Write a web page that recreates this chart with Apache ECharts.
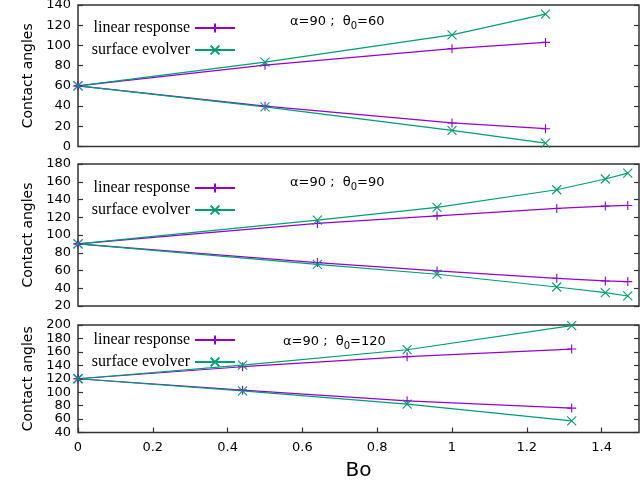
<!DOCTYPE html>
<html>
<head>
<meta charset="utf-8">
<script src="https://cdn.jsdelivr.net/npm/echarts@6/dist/echarts.min.js"></script>
<style>
  html, body { margin: 0; padding: 0; background: #fff; }
  #chart { width: 640px; height: 480px; }
</style>
</head>
<body>
<div id="chart"></div>
<script>
// panel 1: theta0 = 60
var bo1 = [0, 0.5, 1.0, 1.25];
var lrUp1 = [60, 80.5, 96.8, 103];
var lrDn1 = [60, 39.9, 23.3, 17.6];
var seUp1 = [60, 83.5, 110.4, 131];
var seDn1 = [60, 39.2, 16, 3.3];

// panel 2: theta0 = 90
var bo2 = [0, 0.64, 0.96, 1.28, 1.41, 1.47];
var lrUp2 = [90, 113, 121.6, 129.9, 132.6, 133.3];
var lrDn2 = [90, 68.9, 59.5, 51.2, 48.2, 47.5];
var seUp2 = [90, 116.7, 131.1, 151, 163.1, 169.8];
var seDn2 = [90, 67, 55.8, 41.4, 35, 31.3];

// panel 3: theta0 = 120
var bo3 = [0, 0.44, 0.88, 1.32];
var lrUp3 = [120, 137.9, 152.8, 164.2];
var lrDn3 = [120, 103, 87.2, 76.3];
var seUp3 = [120, 140.4, 163.2, 199];
var seDn3 = [120, 102, 82.2, 57.4];

var yRanges = [[0, 140], [20, 180], [40, 200]];
var theta0 = ['60', '90', '120'];

var purple = '#9400d3', green = '#009e73';
var plusSym = 'path://M5,0L5,10M0,5L10,5';
var crossSym = 'path://M0,0L10,10M10,0L0,10';
var sans = 'DejaVu Sans';

var panels = [
    {top: 5, height: 141.5, bo: bo1, lr: [lrUp1, lrDn1], se: [seUp1, seDn1], legTop: 19, noteX: 290, noteY: 22},
    {top: 164, height: 142, bo: bo2, lr: [lrUp2, lrDn2], se: [seUp2, seDn2], legTop: 179, noteX: 290, noteY: 183},
    {top: 325, height: 107.5, bo: bo3, lr: [lrUp3, lrDn3], se: [seUp3, seDn3], legTop: 331, noteX: 283, noteY: 342}
];

function pairs(xs, ys) {
    return xs.map(function (x, i) { return [x, ys[i]]; });
}

var tickStyle = {inside: true, length: 5, lineStyle: {color: '#333', width: 1.2}};
var labelBase = {margin: 7, color: '#000', fontFamily: sans, fontSize: 13};

var grid = [], xAxis = [], yAxis = [], series = [], legend = [], graphic = [];

panels.forEach(function (p, idx) {
    var last = idx === panels.length - 1;
    grid.push({
        left: 78, top: p.top, width: 561, height: p.height,
        outerBoundsMode: 'none',
        show: true, borderColor: '#333', borderWidth: 1.5, backgroundColor: 'transparent'
    });
    xAxis.push({
        type: 'value', gridIndex: idx, min: 0, max: 1.5, interval: 0.2,
        axisLine: {show: false},
        splitLine: {show: false},
        axisTick: Object.assign({show: last}, tickStyle),
        axisLabel: {show: last, showMaxLabel: false, margin: 9, color: '#000', fontFamily: sans, fontSize: 13},
        name: last ? 'Bo' : '', nameLocation: 'middle', nameGap: 28,
        nameTextStyle: {fontFamily: sans, fontSize: 20, color: '#000'}
    });

    var r = yRanges[idx];
    // on the short bottom panel the labels are packed tight; the ones next to
    // min/max go on a second, label-only axis so echarts doesn't drop them
    var crowded = [r[0] + 20, r[1] - 20];
    var yMain = yAxis.length;
    yAxis.push({
        type: 'value', gridIndex: idx, min: r[0], max: r[1], interval: 20,
        axisLine: {show: false},
        splitLine: {show: false},
        axisTick: tickStyle,
        axisLabel: Object.assign({
            showMinLabel: true, showMaxLabel: true,
            formatter: function (v) { return last && crowded.indexOf(v) >= 0 ? '' : String(v); }
        }, labelBase),
        name: 'Contact angles', nameLocation: 'middle', nameGap: 42,
        nameTextStyle: {fontFamily: sans, fontSize: 14, color: '#000'}
    });
    // mirror ticks on the right
    yAxis.push({
        type: 'value', gridIndex: idx, position: 'right', min: r[0], max: r[1], interval: 20,
        axisLine: {show: false},
        splitLine: {show: false},
        axisTick: tickStyle,
        axisLabel: {show: false}
    });
    if (last) {
        yAxis.push({
            type: 'value', gridIndex: idx, position: 'left', offset: 0, min: r[0], max: r[1], interval: 20,
            axisLine: {show: false},
            splitLine: {show: false},
            axisTick: {show: false},
            axisLabel: Object.assign({
                showMinLabel: false, showMaxLabel: false,
                formatter: function (v) { return crowded.indexOf(v) >= 0 ? String(v) : ''; }
            }, labelBase)
        });
    }

    p.lr.forEach(function (ys) {
        series.push({
            name: 'linear response', type: 'line', xAxisIndex: idx, yAxisIndex: yMain,
            data: pairs(p.bo, ys), clip: false,
            symbol: plusSym, symbolSize: 9, showAllSymbol: true,
            lineStyle: {color: purple, width: 1.2},
            itemStyle: {color: purple, borderColor: purple, borderWidth: 1.1},
            animation: false
        });
    });
    p.se.forEach(function (ys) {
        series.push({
            name: 'surface evolver', type: 'line', xAxisIndex: idx, yAxisIndex: yMain,
            data: pairs(p.bo, ys), clip: false,
            symbol: crossSym, symbolSize: 9, showAllSymbol: true,
            lineStyle: {color: green, width: 1.2},
            itemStyle: {color: green, borderColor: green, borderWidth: 1.1},
            animation: false
        });
    });

    legend.push({
        data: ['linear response', 'surface evolver'],
        orient: 'vertical', align: 'right',
        right: 404, top: p.legTop, padding: 0,
        itemWidth: 40, itemHeight: 11, itemGap: 4,
        selectedMode: false,
        textStyle: {fontFamily: 'Liberation Serif', fontSize: 16, color: '#000', lineHeight: 18}
    });

    graphic.push({
        type: 'text', x: p.noteX, y: p.noteY,
        style: {
            text: '{a|α=90 ;  θ}{s|0}{a|=' + theta0[idx] + '}',
            verticalAlign: 'middle',
            rich: {
                a: {fontFamily: sans, fontSize: 13, fill: '#000', lineHeight: 18},
                s: {fontFamily: sans, fontSize: 10, fill: '#000', lineHeight: 10, verticalAlign: 'bottom'}
            }
        }
    });
});

var chart = echarts.init(document.getElementById('chart'));
chart.setOption({
    animation: false,
    grid: grid,
    xAxis: xAxis,
    yAxis: yAxis,
    legend: legend,
    graphic: graphic,
    series: series
});
</script>
</body>
</html>
